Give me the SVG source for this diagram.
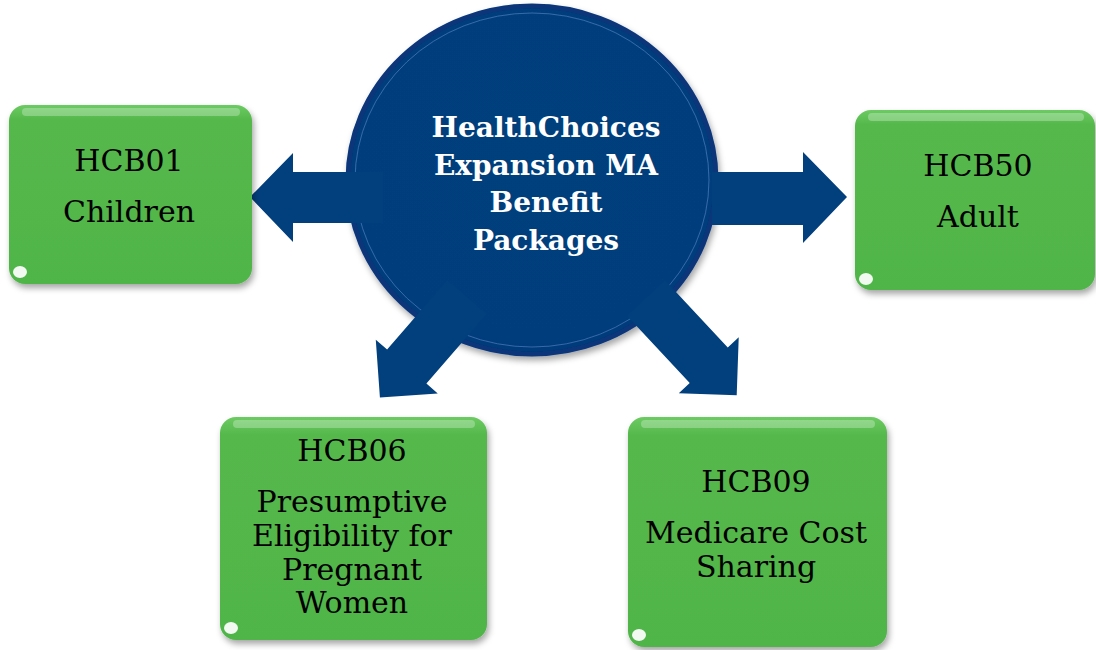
<svg xmlns="http://www.w3.org/2000/svg" width="1096" height="650" viewBox="0 0 1096 650">
  <defs>
    <style>
      .box { fill: url(#greenGrad); }
      .topHi { fill: #ffffff; opacity: 0.28; }
      .spot { fill: #ffffff; opacity: 0.92; }
      .lbl { font-family: "DejaVu Serif", "Liberation Serif", serif; font-size: 30px; fill: #000000; text-anchor: middle; }
      .ctr { font-family: "DejaVu Serif", "Liberation Serif", serif; font-size: 28px; font-weight: bold; fill: #ffffff; text-anchor: middle; }
      .arrow { fill: #023F7D; }
    </style>
    <linearGradient id="greenGrad" x1="0" y1="0" x2="0" y2="1">
      <stop offset="0" stop-color="#6CCB62"/>
      <stop offset="0.08" stop-color="#55B84C"/>
      <stop offset="1" stop-color="#50B548"/>
    </linearGradient>
    <radialGradient id="blueGrad" cx="0.5" cy="0.45" r="0.55">
      <stop offset="0" stop-color="#043F7D"/>
      <stop offset="0.9" stop-color="#033E7C"/>
      <stop offset="1" stop-color="#02397A"/>
    </radialGradient>
    <filter id="shadow" x="-10%" y="-10%" width="125%" height="130%">
      <feDropShadow dx="2" dy="4" stdDeviation="3" flood-color="#000000" flood-opacity="0.35"/>
    </filter>
  </defs>

  <g id="center" filter="url(#shadow)">
    <ellipse cx="532" cy="180" rx="184" ry="174" fill="url(#blueGrad)" stroke="#08367A" stroke-width="5"/>
    <ellipse cx="532" cy="180" rx="177" ry="167" fill="none" stroke="#6A98D6" stroke-width="1" opacity="0.5"/>
  </g>

  <g id="connectors">
    <polygon class="arrow" points="383,172 293,172 293,153 250,197 293,242 293,223 383,223"/>
    <polygon class="arrow" points="712,172 803,172 803,152 847,197 803,243 803,225 712,225"/>
    <polygon class="arrow" transform="translate(467,297) rotate(130.9)" points="0,-26 92,-26 92,-41 133,0 92,41 92,26 0,26"/>
    <polygon class="arrow" transform="translate(646,298) rotate(47)" points="0,-26 92,-26 92,-41 133,0 92,41 92,26 0,26"/>
  </g>

  <g id="center-label">
    <text class="ctr" x="546" y="137">HealthChoices</text>
    <text class="ctr" x="546" y="175">Expansion MA</text>
    <text class="ctr" x="546" y="212">Benefit</text>
    <text class="ctr" x="546" y="250">Packages</text>
  </g>

  <g id="hcb01">
    <rect class="box" x="9" y="105" width="243" height="179" rx="16" filter="url(#shadow)"/>
    <rect class="topHi" x="22" y="108" width="218" height="8" rx="4"/>
    <ellipse class="spot" cx="20" cy="272" rx="7" ry="6"/>
    <text class="lbl" x="129" y="171">HCB01</text>
    <text class="lbl" x="129" y="222">Children</text>
  </g>

  <g id="hcb50">
    <rect class="box" x="855" y="110" width="240" height="180" rx="16" filter="url(#shadow)"/>
    <rect class="topHi" x="868" y="113" width="216" height="8" rx="4"/>
    <ellipse class="spot" cx="866" cy="279" rx="7" ry="6"/>
    <text class="lbl" x="978" y="176">HCB50</text>
    <text class="lbl" x="978" y="227">Adult</text>
  </g>

  <g id="hcb06">
    <rect class="box" x="220" y="417" width="267" height="223" rx="16" filter="url(#shadow)"/>
    <rect class="topHi" x="233" y="420" width="242" height="8" rx="4"/>
    <ellipse class="spot" cx="231" cy="628" rx="7" ry="6"/>
    <text class="lbl" x="352" y="461">HCB06</text>
    <text class="lbl" x="352" y="512">Presumptive</text>
    <text class="lbl" x="352" y="546">Eligibility for</text>
    <text class="lbl" x="352" y="580">Pregnant</text>
    <text class="lbl" x="352" y="613">Women</text>
  </g>

  <g id="hcb09">
    <rect class="box" x="628" y="417" width="259" height="230" rx="16" filter="url(#shadow)"/>
    <rect class="topHi" x="641" y="420" width="234" height="8" rx="4"/>
    <ellipse class="spot" cx="639" cy="635" rx="7" ry="6"/>
    <text class="lbl" x="756" y="492">HCB09</text>
    <text class="lbl" x="756" y="543">Medicare Cost</text>
    <text class="lbl" x="756" y="577">Sharing</text>
  </g>
</svg>
